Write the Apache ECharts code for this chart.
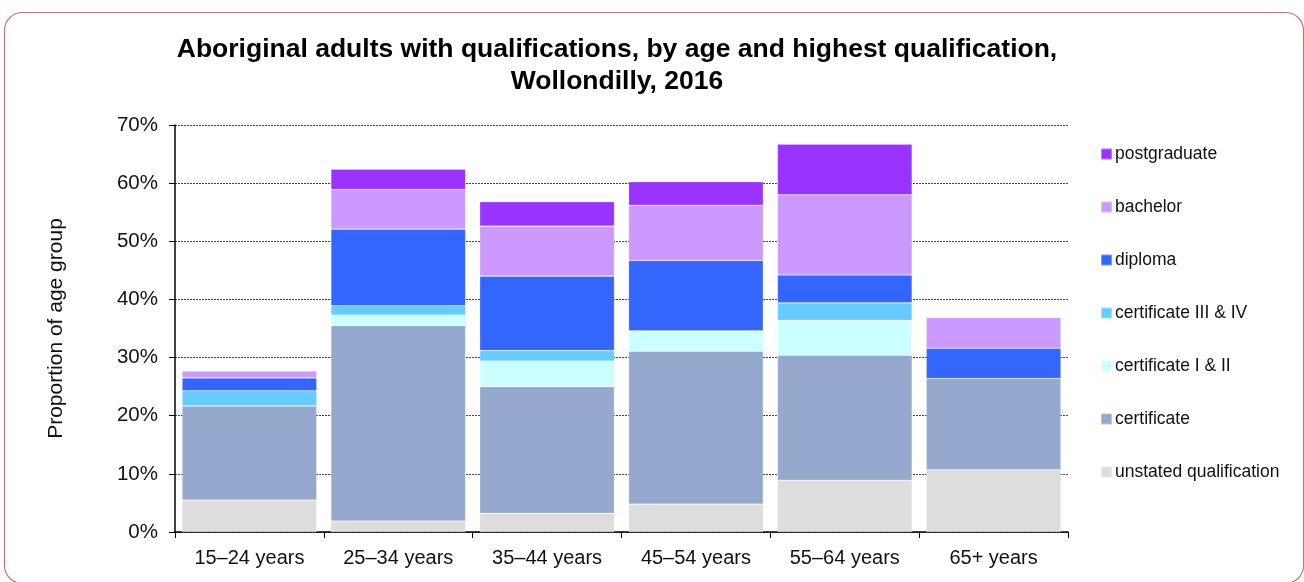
<!DOCTYPE html>
<html>
<head>
<meta charset="utf-8">
<script src="https://cdn.jsdelivr.net/npm/echarts@6/dist/echarts.min.js"></script>
<style>
  html, body { margin: 0; padding: 0; background: #ffffff; }
  #chart { width: 1304px; height: 582px; }
</style>
</head>
<body>
<div id="chart"></div>
<script>
// Age groups along the x axis
const ageGroups = ['15–24 years', '25–34 years', '35–44 years', '45–54 years', '55–64 years', '65+ years'];

// Share of each age group (%) by highest qualification, stacked bottom to top
const unstated      = [5.5, 1.9, 3.2, 4.8, 8.9, 10.7];
const certificate   = [16.2, 33.6, 21.8, 26.3, 21.5, 15.7];
const certOneTwo    = [0, 1.8, 4.4, 3.5, 6.0, 0];
const certThreeFour = [2.6, 1.6, 1.8, 0, 3.0, 0];
const diploma       = [2.2, 13.2, 12.8, 12.1, 4.8, 5.2];
const bachelor      = [1.2, 6.8, 8.6, 9.5, 13.8, 5.3];
const postgraduate  = [0, 3.5, 4.2, 4.05, 8.7, 0];

const seriesDefs = [
  { name: 'unstated qualification', data: unstated,      color: '#DDDDDD' },
  { name: 'certificate',            data: certificate,   color: '#95A9CF' },
  { name: 'certificate I & II',     data: certOneTwo,    color: '#CCFFFF' },
  { name: 'certificate III & IV',   data: certThreeFour, color: '#66CCFF' },
  { name: 'diploma',                data: diploma,       color: '#3366FF' },
  { name: 'bachelor',               data: bachelor,      color: '#CC99FF' },
  { name: 'postgraduate',           data: postgraduate,  color: '#9933FF' }
];

const font = '"Liberation Sans", Arial, sans-serif';
const chart = echarts.init(document.getElementById('chart'), null, { renderer: 'canvas' });

chart.setOption({
  animation: false,
  textStyle: { fontFamily: font },
  graphic: [{
    type: 'rect',
    left: 2, top: 10,
    shape: { width: 1299, height: 571, r: 18 },
    style: { fill: 'none', stroke: '#C07878', lineWidth: 1.2 },
    silent: true
  }],
  title: {
    text: 'Aboriginal adults with qualifications, by age and highest qualification,\nWollondilly, 2016',
    left: 612, top: 29, textAlign: 'center',
    textStyle: { fontFamily: font, fontSize: 26.5, fontWeight: 'bold', color: '#000', lineHeight: 32 }
  },
  legend: {
    orient: 'vertical',
    left: 1100, top: 145,
    padding: 0,
    itemWidth: 11, itemHeight: 11, itemGap: 35,
    icon: 'rect',
    data: ['postgraduate', 'bachelor', 'diploma', 'certificate III & IV', 'certificate I & II', 'certificate', 'unstated qualification'],
    textStyle: { fontFamily: font, fontSize: 17.5, color: '#111', lineHeight: 18, padding: [0, 0, 0, -2] }
  },
  grid: { left: 175, right: 236, top: 125, bottom: 50, containLabel: false },
  xAxis: {
    type: 'category',
    data: ageGroups,
    axisLine: { lineStyle: { color: '#000', width: 1.5 } },
    axisTick: { show: true, length: 6, alignWithLabel: false, lineStyle: { color: '#000' } },
    axisLabel: { fontFamily: font, fontSize: 20, color: '#111', margin: 16 }
  },
  yAxis: {
    type: 'value',
    min: 0, max: 70, interval: 10,
    name: 'Proportion of age group',
    nameLocation: 'middle',
    nameGap: 108,
    nameRotate: 90,
    nameTextStyle: { fontFamily: font, fontSize: 21, color: '#111' },
    axisLine: { show: true, lineStyle: { color: '#000', width: 1.5 } },
    axisTick: { show: true, length: 6, lineStyle: { color: '#000' } },
    axisLabel: { fontFamily: font, fontSize: 20.5, color: '#111', margin: 17, formatter: '{value}%' },
    splitLine: { show: true, lineStyle: { color: '#444', type: [2, 1], width: 1 } }
  },
  series: seriesDefs.map(s => ({
    name: s.name,
    type: 'bar',
    stack: 'total',
    data: s.data,
    barCategoryGap: '9.5%',
    itemStyle: { color: s.color, borderColor: 'rgba(255,255,255,0.35)', borderWidth: 0.6 }
  }))
});
</script>
</body>
</html>
